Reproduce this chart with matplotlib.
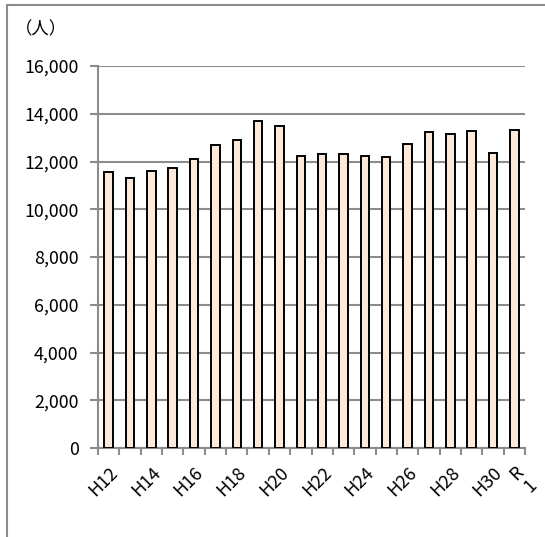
import matplotlib.pyplot as plt
from matplotlib.patches import Rectangle
import numpy as np

plt.rcParams["font.family"] = ["Noto Sans CJK JP", "DejaVu Sans"]

# 年度（H12〜R1）
years = ["H12", "H13", "H14", "H15", "H16", "H17", "H18", "H19", "H20", "H21",
         "H22", "H23", "H24", "H25", "H26", "H27", "H28", "H29", "H30", "R1"]
# 人数
persons = [11580, 11310, 11600, 11725, 12100, 12690, 12900, 13700, 13480, 12210,
           12335, 12295, 12225, 12197, 12713, 13230, 13150, 13275, 12365, 13300]
yticks = [0, 2000, 4000, 6000, 8000, 10000, 12000, 14000, 16000]
unit_label = "（人）"

W, H = 545, 537
fig = plt.figure(figsize=(W / 100, H / 100), dpi=100)
ax = fig.add_axes([98 / W, 1 - 448 / H, (525 - 98) / W, (448 - 66) / H])

grey = "#8c8c8c"
x = np.arange(len(years))
ax.bar(x, persons, width=0.4, color="#fde9d9", edgecolor="black",
       linewidth=1.4, zorder=3)

ax.set_ylim(0, 16000)
ax.set_xlim(-0.5, len(years) - 0.5)
ax.set_yticks(yticks)
ax.set_yticklabels([f"{v:,}" for v in yticks], fontsize=12.8)
ax.yaxis.grid(True, color=grey, linewidth=1.5, zorder=0)
ax.tick_params(axis="y", length=6, width=1.5, color=grey, pad=8)

# category boundary ticks (no labels), labels on every other category
ax.set_xticks(np.arange(len(years) + 1) - 0.5)
ax.set_xticklabels([])
ax.tick_params(axis="x", which="major", length=5, width=1.5, color=grey)
label_pos = list(range(0, len(years) - 1, 2)) + [len(years) - 1]
ax.set_xticks(label_pos, minor=True)
shown = [years[i] if years[i] != "R1" else "R\n1" for i in label_pos]
ax.set_xticklabels(shown, minor=True, rotation=45, ha="right",
                   va="top", rotation_mode="anchor", fontsize=13,
                   linespacing=1.0)
ax.tick_params(axis="x", which="minor", length=0, pad=11)

for side in ["top", "right"]:
    ax.spines[side].set_visible(False)
for side in ["left", "bottom"]:
    ax.spines[side].set_color(grey)
    ax.spines[side].set_linewidth(1.5)

fig.text(41 / W, 1 - 29 / H, unit_label, fontsize=12.5, ha="center", va="center")

# outer chart frame
fig.patches.append(Rectangle((7 / W, -0.1), 1.2, 1 - 5 / H + 0.1,
                             transform=fig.transFigure, fill=False,
                             edgecolor=grey, linewidth=1.5))

fig.savefig("out.png", dpi=100)
